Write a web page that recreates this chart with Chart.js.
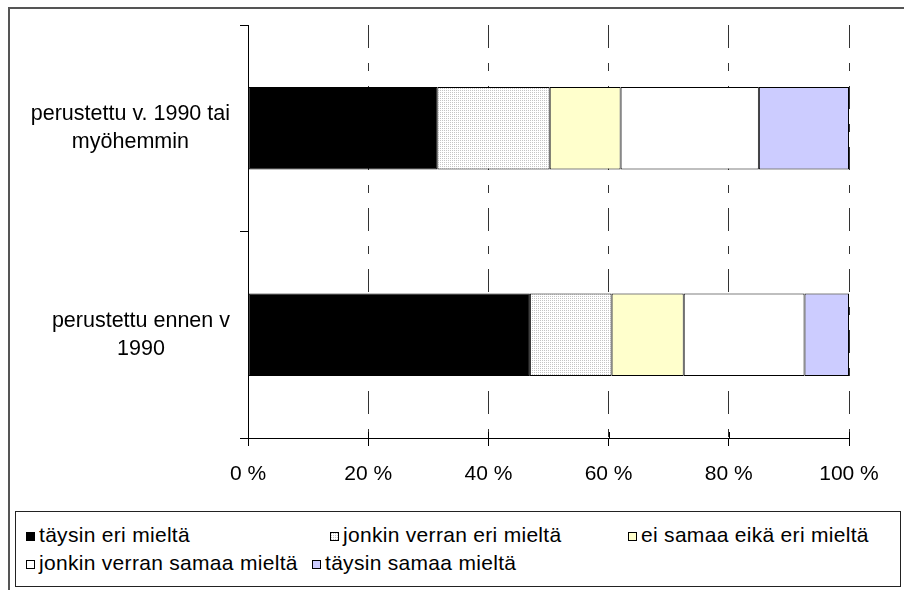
<!DOCTYPE html>
<html lang="fi">
<head>
<meta charset="utf-8">
<title>Perustamisvuosi</title>
<script src="https://cdn.jsdelivr.net/npm/chart.js@4.4.1/dist/chart.umd.min.js"></script>
<style>
  html, body {
    margin: 0;
    padding: 0;
    background: #fff;
    width: 904px;
    height: 590px;
    overflow: hidden;
    font-family: "Liberation Sans", Arial, sans-serif;
  }
  #wrap { position: relative; width: 904px; height: 590px; }
  #frame {
    position: absolute; left: 8px; top: 7px; width: 1000px; height: 1000px;
    border: 2px solid #555; box-sizing: border-box;
  }
  #chart { position: absolute; left: 0; top: 0; }
  #legend {
    position: absolute; left: 15px; top: 511px; width: 886px; height: 76px;
    border: 1px solid #222; box-sizing: border-box; background: #fff;
  }
  .item {
    position: absolute; font-size: 21px; line-height: 24px; letter-spacing: 0.3px;
    white-space: nowrap; color: #000;
  }
  .swatch {
    display: inline-block; width: 7px; height: 7px; border: 1px solid #000;
    margin-right: 4px; vertical-align: 1px; background-size: 2px 2px;
  }
</style>
</head>
<body>
<div id="wrap">
  <div id="frame"></div>
  <canvas id="chart" width="904" height="590"></canvas>
  <div id="legend"></div>
</div>
<script>
const categories = [
  ["perustettu v. 1990 tai", "myöhemmin"],
  ["perustettu ennen v", "1990"],
];
const seriesNames = [
  "täysin eri mieltä",
  "jonkin verran eri mieltä",
  "ei samaa eikä eri mieltä",
  "jonkin verran samaa mieltä",
  "täysin samaa mieltä",
];
const taysinEri = [31.5, 46.9];
const jonkinEri = [18.7, 13.6];
const eiSamaaEikaEri = [11.8, 12.0];
const jonkinSamaa = [23.0, 20.1];
const taysinSamaa = [15.0, 7.4];
const xTicks = [0, 20, 40, 60, 80, 100];

(function () {
  "use strict";

  const FONT = "'Liberation Sans', Arial, sans-serif";
  const LABEL_FONT = "21.5px " + FONT;

  // fine grey stipple like the old office fill
  function makeStipple() {
    const c = document.createElement("canvas");
    c.width = 2;
    c.height = 2;
    const g = c.getContext("2d");
    g.fillStyle = "#fff";
    g.fillRect(0, 0, 2, 2);
    g.fillStyle = "#c4c4c4";
    g.fillRect(0, 0, 1, 1);
    return c;
  }

  const stippleCanvas = makeStipple();
  const stipple = document
    .getElementById("chart")
    .getContext("2d")
    .createPattern(stippleCanvas, "repeat");

  const values = [taysinEri, jonkinEri, eiSamaaEikaEri, jonkinSamaa, taysinSamaa];
  const fills = ["#000000", stipple, "#ffffcc", "#ffffff", "#ccccff"];
  const swatchCss = [
    "#000",
    "url(" + stippleCanvas.toDataURL() + ")",
    "#ffffcc",
    "#fff",
    "#ccccff",
  ];

  const datasets = seriesNames.map(function (name, i) {
    return {
      label: name,
      data: values[i],
      backgroundColor: fills[i],
      borderColor: "#000",
      borderWidth: 1,
      borderSkipped: false,
      categoryPercentage: 1,
      barPercentage: 0.4,
    };
  });

  // x ticks in the original cross the axis line a little
  const crossTicks = {
    id: "crossTicks",
    afterDraw: function (chart) {
      const x = chart.scales.x;
      const ctx = chart.ctx;
      ctx.save();
      ctx.strokeStyle = "#000";
      ctx.lineWidth = 1;
      ctx.beginPath();
      x.ticks.forEach(function (t) {
        const px = Math.round(x.getPixelForValue(t.value)) + 0.5;
        ctx.moveTo(px, x.top - 6);
        ctx.lineTo(px, x.top);
      });
      ctx.stroke();
      ctx.restore();
    },
  };

  // category labels: each block right-aligned, its lines centred in the block
  const blockLabels = {
    id: "blockLabels",
    afterDraw: function (chart) {
      const y = chart.scales.y;
      const ctx = chart.ctx;
      const right = y.right - 18;
      const lineH = 28;
      ctx.save();
      ctx.font = LABEL_FONT;
      ctx.fillStyle = "#000";
      ctx.textAlign = "center";
      ctx.textBaseline = "middle";
      categories.forEach(function (lines, i) {
        const w = Math.max.apply(null, lines.map(function (s) {
          return ctx.measureText(s).width;
        }));
        const cx = right - w / 2;
        const cy = y.getPixelForValue(i);
        lines.forEach(function (s, k) {
          ctx.fillText(s, cx, cy + (k - (lines.length - 1) / 2) * lineH);
        });
      });
      ctx.restore();
    },
  };

  new Chart(document.getElementById("chart"), {
    type: "bar",
    data: { labels: categories, datasets: datasets },
    plugins: [crossTicks, blockLabels],
    options: {
      indexAxis: "y",
      responsive: false,
      animation: false,
      layout: { padding: { top: 25, right: 55, left: 0, bottom: 0 } },
      plugins: {
        legend: { display: false },
        tooltip: { enabled: false },
      },
      scales: {
        x: {
          stacked: true,
          min: 0,
          max: 100,
          afterBuildTicks: function (scale) {
            scale.ticks = xTicks.map(function (v) {
              return { value: v };
            });
          },
          ticks: {
            callback: function (v) {
              return v + " %";
            },
            color: "#000",
            font: { family: FONT, size: 21 },
            padding: 16,
            maxRotation: 0,
          },
          grid: { color: "#333", lineWidth: 1, tickLength: 8, tickColor: "#000" },
          border: { display: true, color: "#000", width: 1, dash: [23, 15, 8, 15] },
          afterFit: function (s) {
            s.height = 152;
          },
        },
        y: {
          stacked: true,
          ticks: { display: false },
          grid: { offset: true, drawOnChartArea: false, tickLength: 8, color: "#000" },
          border: { display: true, color: "#000", width: 1 },
          afterFit: function (s) {
            s.width = 248;
            s.paddingTop = 0;
            s.paddingBottom = 0;
          },
        },
      },
    },
  });

  // legend box, laid out like the original
  const legendPos = [
    { x: 10, y: 11 },
    { x: 314, y: 11 },
    { x: 612, y: 11 },
    { x: 10, y: 39 },
    { x: 296, y: 39 },
  ];
  const legend = document.getElementById("legend");
  seriesNames.forEach(function (name, i) {
    const item = document.createElement("div");
    item.className = "item";
    item.style.left = legendPos[i].x + "px";
    item.style.top = legendPos[i].y + "px";
    const sw = document.createElement("span");
    sw.className = "swatch";
    sw.style.background = swatchCss[i];
    item.appendChild(sw);
    item.appendChild(document.createTextNode(name));
    legend.appendChild(item);
  });
})();
</script>
</body>
</html>
